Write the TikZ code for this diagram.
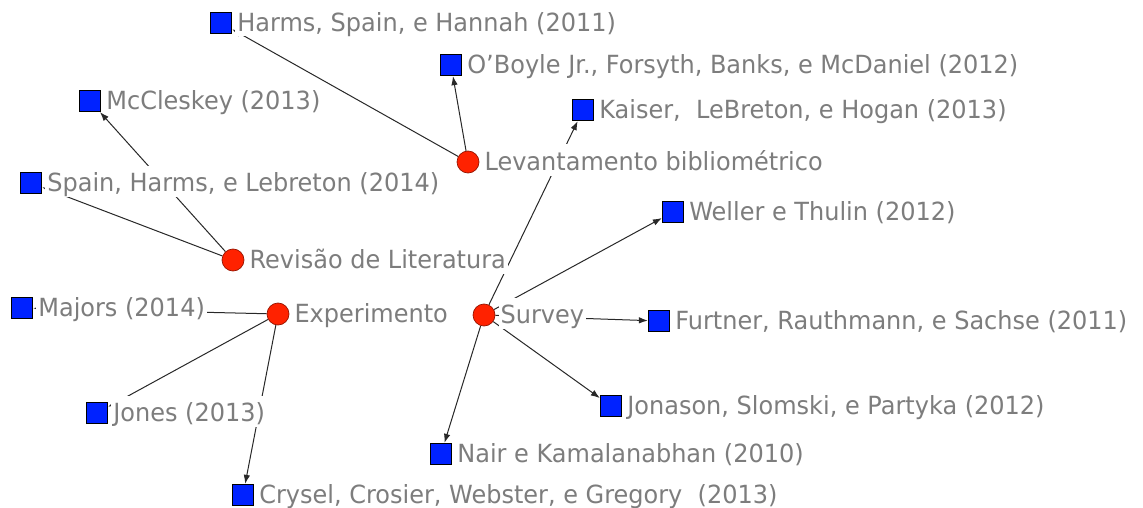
\documentclass[tikz,border=0pt]{standalone}
\usepackage{fontspec}
\setmainfont{DejaVu Sans}[FakeStretch=0.96]
\usetikzlibrary{arrows.meta}
\pgfdeclarelayer{bg}
\pgfdeclarelayer{edges}
\pgfsetlayers{bg,edges,main}
\definecolor{txtgray}{RGB}{125,125,125}
\definecolor{nodered}{RGB}{255,34,0}
\definecolor{nodeborder}{RGB}{150,20,0}
\definecolor{nodeblue}{RGB}{0,34,255}
\definecolor{edgegray}{RGB}{40,40,40}
\begin{document}
\begin{tikzpicture}[x=1pt,y=-1pt,
 method/.style={circle,fill=nodered,draw=nodeborder,line width=0.7pt,minimum size=22pt,inner sep=0pt},
 study/.style={rectangle,fill=nodeblue,draw=black,line width=0.8pt,minimum size=21.5pt,inner sep=0pt},
 lbl/.style={anchor=base west,fill=white,text=txtgray,font=\fontsize{25}{30}\selectfont,inner xsep=2pt,inner ysep=0pt,text height=26pt,text depth=5pt,xshift=3pt,yshift=-8.5pt},
 link/.style={draw=edgegray,line width=1pt,-{Latex[length=9pt,width=6.5pt]}}]
\begin{pgfonlayer}{bg}
\fill[white] (0,0) rectangle (1143,508);
\end{pgfonlayer}
\useasboundingbox (0,0) rectangle (1143,508);
% methods
\node[method] (lev) at (468,162) {};
\node[method] (rev) at (233,260) {};
\node[method] (exp) at (278,314) {};
\node[method] (sur) at (484,315) {};
% studies
\node[study] (harms) at (221,23) {};
\node[study] (oboyle) at (451,65) {};
\node[study] (kaiser) at (583,110) {};
\node[study] (mcc) at (90,101) {};
\node[study] (spain) at (31,183) {};
\node[study] (weller) at (673,212) {};
\node[study] (majors) at (22,308) {};
\node[study] (furtner) at (659,321) {};
\node[study] (jones) at (97,413) {};
\node[study] (jonason) at (611,406) {};
\node[study] (nair) at (441,454) {};
\node[study] (crysel) at (243,495) {};
% edges
\begin{pgfonlayer}{edges}
\draw[link] (lev) -- (harms);
\draw[link] (lev) -- (oboyle);
\draw[link] (rev) -- (mcc);
\draw[link] (rev) -- (spain);
\draw[link] (exp) -- (majors);
\draw[link] (exp) -- (jones);
\draw[link] (exp) -- (crysel);
\draw[link] (sur) -- (kaiser);
\draw[link] (sur) -- (weller);
\draw[link] (sur) -- (furtner);
\draw[link] (sur) -- (jonason);
\draw[link] (sur) -- (nair);
\end{pgfonlayer}
% labels
\node[lbl] (lev-l) at (lev.east) {Levantamento bibliométrico};
\node[lbl] (rev-l) at (rev.east) {Revisão de Literatura};
\node[lbl] (exp-l) at (exp.east) {Experimento};
\node[lbl] (sur-l) at (sur.east) {Survey};
\node[lbl] (harms-l) at (harms.east) {Harms, Spain, e Hannah (2011)};
\node[lbl] (oboyle-l) at (oboyle.east) {O’Boyle Jr., Forsyth, Banks, e McDaniel (2012)};
\node[lbl] (kaiser-l) at (kaiser.east) {Kaiser,\ \ LeBreton, e Hogan (2013)};
\node[lbl] (mcc-l) at (mcc.east) {McCleskey (2013)};
\node[lbl] (spain-l) at (spain.east) {Spain, Harms, e Lebreton (2014)};
\node[lbl] (weller-l) at (weller.east) {Weller e Thulin (2012)};
\node[lbl] (majors-l) at (majors.east) {Majors (2014)};
\node[lbl] (furtner-l) at (furtner.east) {Furtner, Rauthmann, e Sachse (2011)};
\node[lbl] (jones-l) at (jones.east) {Jones (2013)};
\node[lbl] (jonason-l) at (jonason.east) {Jonason, Slomski, e Partyka (2012)};
\node[lbl] (nair-l) at (nair.east) {Nair e Kamalanabhan (2010)};
\node[lbl] (crysel-l) at (crysel.east) {Crysel, Crosier, Webster, e Gregory\ \ (2013)};
\end{tikzpicture}
\end{document}
